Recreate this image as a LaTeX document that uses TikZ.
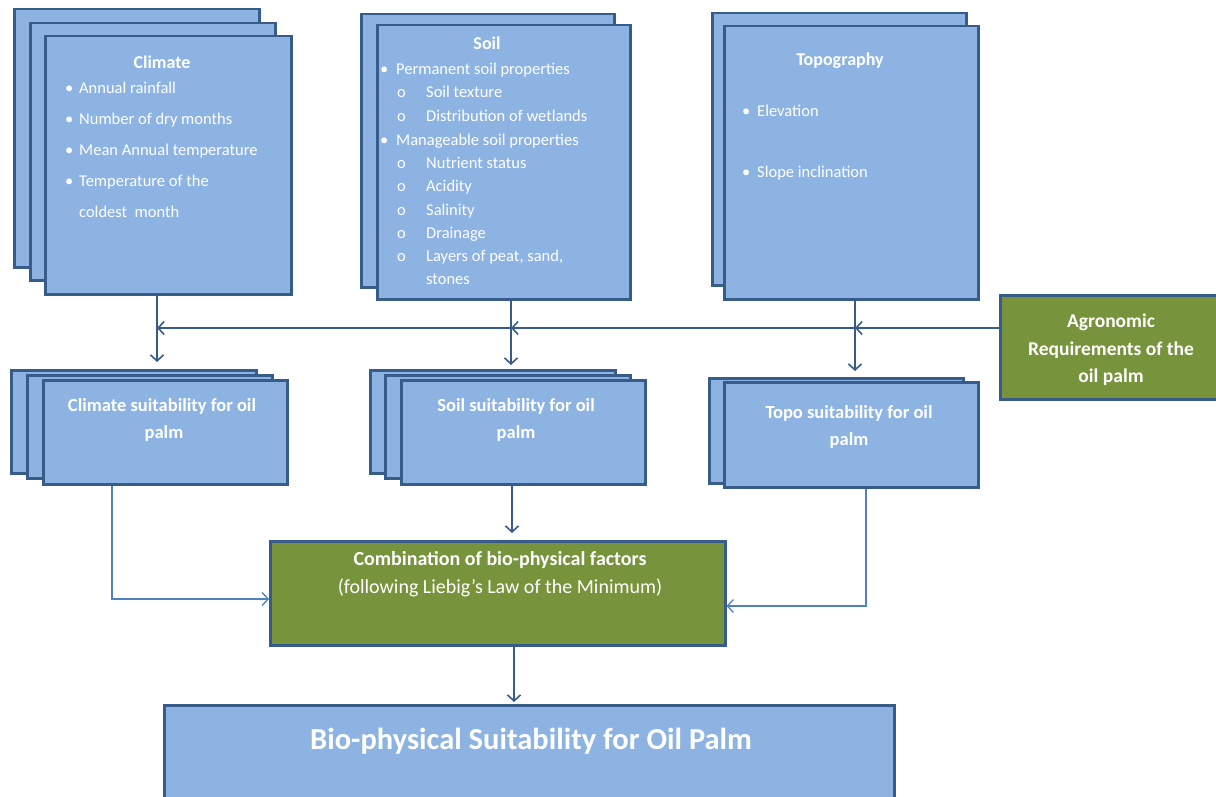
\documentclass[tikz,border=0pt]{standalone}
\usepackage{fontspec}
\setmainfont{Carlito}
\usetikzlibrary{arrows.meta}
\definecolor{bdr}{HTML}{385C89}
\definecolor{lb}{HTML}{8DB3E2}
\definecolor{og}{HTML}{77933C}
\definecolor{lbl}{HTML}{4F81BD}
\tikzset{
  bbox/.style={draw=bdr, fill=lb, line width=2.5pt, inner sep=0pt, anchor=north west},
  gbox/.style={bbox, fill=og},
  txt/.style={text=white, inner sep=0pt, anchor=mid west, yshift=-4pt, font=\fontsize{16.5}{19}\selectfont},
  ttl/.style={text=white, inner sep=0pt, anchor=mid, yshift=-4pt, font=\bfseries\fontsize{18}{21}\selectfont},
  ctr/.style={text=white, inner sep=0pt, anchor=mid, yshift=-4pt, font=\bfseries\fontsize{18.5}{22}\selectfont},
  arr/.style={draw=bdr, line width=1.8pt, -{Straight Barb[length=6pt,width=13pt,line width=1.6pt]}},
  arrl/.style={draw=lbl, line width=1.3pt, -{Straight Barb[length=6pt,width=13pt,line width=1.3pt]}},
}
\newcommand{\bul}[1]{\makebox[#1][l]{•}}
\newcommand{\sub}{\makebox[29pt][l]{o}}
\begin{document}
\begin{tikzpicture}[x=1pt,y=-1pt]
\useasboundingbox (0,0) rectangle (1216,797);
% Climate stack
\node[bbox, minimum width=245pt, minimum height=258pt] (clA) at (13,8) {};
\node[bbox, minimum width=245pt, minimum height=257pt] (clB) at (29,22) {};
\node[bbox, minimum width=246pt, minimum height=258pt] (clC) at (44,35) {};
\node[ttl] (clT) at (162,62) {Climate};
\node[txt] (cl1) at (65,87) {\bul{14pt}Annual rainfall};
\node[txt] (cl2) at (65,118) {\bul{14pt}Number of dry months};
\node[txt] (cl3) at (65,149) {\bul{14pt}Mean Annual temperature};
\node[txt] (cl4) at (65,180) {\bul{14pt}Temperature of the};
\node[txt] (cl5) at (79,211) {coldest\ \ month};
% Soil stack
\node[bbox, minimum width=253pt, minimum height=273pt] (soA) at (360,13) {};
\node[bbox, minimum width=253pt, minimum height=274pt] (soB) at (376,24) {};
\node[ttl] (soT) at (487,43) {Soil};
\node[txt] (so1) at (380,68) {\bul{16pt}Permanent soil properties};
\node[txt] (so2) at (397,91) {\sub Soil texture};
\node[txt] (so3) at (397,115) {\sub Distribution of wetlands};
\node[txt] (so4) at (380,139) {\bul{16pt}Manageable soil properties};
\node[txt] (so5) at (397,162) {\sub Nutrient status};
\node[txt] (so6) at (397,185) {\sub Acidity};
\node[txt] (so7) at (397,209) {\sub Salinity};
\node[txt] (so8) at (397,232) {\sub Drainage};
\node[txt] (so9) at (397,255) {\sub Layers of peat, sand,};
\node[txt] (so10) at (426,278) {stones};
% Topography stack
\node[bbox, minimum width=254pt, minimum height=272pt] (toA) at (711,12) {};
\node[bbox, minimum width=254pt, minimum height=273pt] (toB) at (723,25) {};
\node[ttl] (toT) at (840,59) {Topography};
\node[txt] (to1) at (742,110) {\bul{15pt}Elevation};
\node[txt] (to2) at (742,171) {\bul{15pt}Slope inclination};
% Agronomic
\node[gbox, minimum width=220pt, minimum height=104pt] (agr) at (999,294) {};
\node[ctr, font=\bfseries\fontsize{19.5}{23}\selectfont] (ag1) at (1111,321) {Agronomic};
\node[ctr, font=\bfseries\fontsize{19.5}{23}\selectfont] (ag2) at (1111,349) {Requirements of the};
\node[ctr, font=\bfseries\fontsize{19.5}{23}\selectfont] (ag3) at (1111,376) {oil palm};
% Suitability stacks
\node[bbox, minimum width=245pt, minimum height=103pt] (csA) at (10,369) {};
\node[bbox, minimum width=245pt, minimum height=103pt] (csB) at (26,374) {};
\node[bbox, minimum width=244pt, minimum height=104pt] (csC) at (42,379) {};
\node[ctr] (cs1) at (162,405) {Climate suitability for oil};
\node[ctr] (cs2) at (164,432) {palm};
\node[bbox, minimum width=245pt, minimum height=103pt] (ssA) at (369,369) {};
\node[bbox, minimum width=245pt, minimum height=103pt] (ssB) at (384,374) {};
\node[bbox, minimum width=244pt, minimum height=104pt] (ssC) at (400,379) {};
\node[ctr] (ss1) at (516,405) {Soil suitability for oil};
\node[ctr] (ss2) at (516,432) {palm};
\node[bbox, minimum width=254pt, minimum height=105pt] (tsA) at (708,377) {};
\node[bbox, minimum width=254pt, minimum height=105pt] (tsB) at (723,381) {};
\node[ctr] (ts1) at (849,412) {Topo suitability for oil};
\node[ctr] (ts2) at (849,439) {palm};
% Combination
\node[gbox, minimum width=455pt, minimum height=104pt] (comb) at (269,540) {};
\node[ctr, font=\bfseries\fontsize{20}{23}\selectfont] (cb1) at (500,559) {Combination of bio-physical factors};
\node[ctr, font=\fontsize{20}{23}\selectfont] (cb2) at (500,587) {(following Liebig’s Law of the Minimum)};
% Bottom
\node[bbox, minimum width=730pt, minimum height=120pt] (bot) at (163,704) {};
\node[ctr, font=\bfseries\fontsize{30.5}{35}\selectfont] (bt) at (531,743) {Bio-physical Suitability for Oil Palm};
% coordinates
\coordinate (xc) at (157,0);
\coordinate (xs) at (511,0);
\coordinate (xt) at (855,0);
\coordinate (hy) at (0,328);
\coordinate (k1) at (112,599);
\coordinate (k2) at (866,606);
\coordinate (xs2) at (512,0);
\coordinate (xb) at (514,0);
% connectors
\draw[arr, shorten >=7pt] (clC.south -| xc) -- (csA.north -| xc);
\draw[arr, shorten >=4pt] (soB.south -| xs) -- (ssA.north -| xs);
\draw[arr, shorten >=6pt] (toB.south -| xt) -- (tsA.north -| xt);
\draw[arr] (agr.west |- hy) -- (xt |- hy);
\draw[arr] (xt |- hy) -- (xs |- hy);
\draw[arr] (xs |- hy) -- (xc |- hy);
\draw[arrl] (csC.south -| k1) |- (comb.west |- k1);
\draw[arrl] (tsB.south -| k2) |- (comb.east |- k2);
\draw[arr, shorten >=7pt] (ssC.south -| xs2) -- (comb.north -| xs2);
\draw[arr, shorten >=2pt] (comb.south -| xb) -- (bot.north -| xb);
\end{tikzpicture}
\end{document}
